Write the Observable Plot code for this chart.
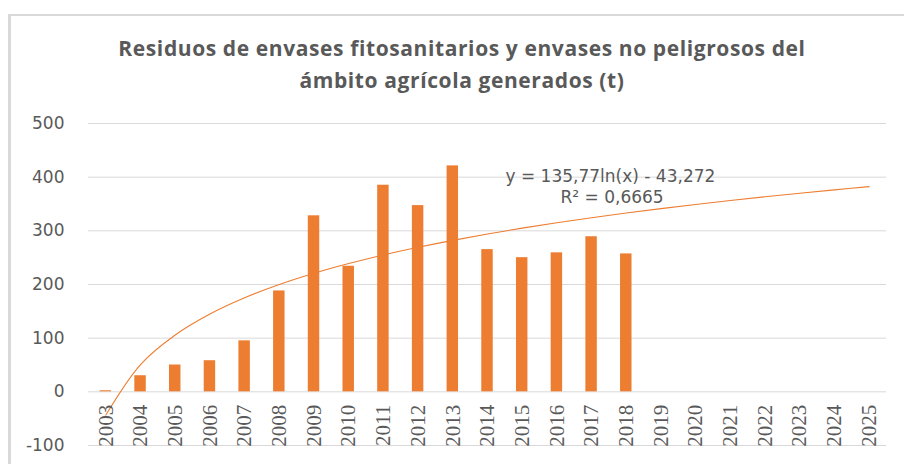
<!DOCTYPE html>
<html>
<head>
<meta charset="utf-8">
<script src="https://cdn.jsdelivr.net/npm/d3@7"></script>
<script src="https://cdn.jsdelivr.net/npm/@observablehq/plot@0.6"></script>
<style>
  body { margin: 0; background: #fff; }
  #wrap { position: relative; width: 904px; height: 464px; overflow: hidden; background: #fff; }
  #frame { position: absolute; left: 8px; top: 14px; right: -10px; bottom: -10px; border-top: 2px solid #d9d9d9; border-left: 3px solid #d9d9d9; pointer-events: none; }
  #title { height: 110px; box-sizing: border-box; padding-top: 32px; padding-left: 20px; text-align: center; font-family: "Open Sans", Lato, sans-serif; font-weight: bold; font-size: 21px; letter-spacing: 0.6px; line-height: 32px; color: #595959; }
</style>
</head>
<body>
<div id="wrap">
  <div id="frame"></div>
  <div id="title">Residuos de envases fitosanitarios y envases no peligrosos del<br>ámbito agrícola generados (t)</div>
  <div id="chart"></div>
</div>
<script>
const years = ["2003","2004","2005","2006","2007","2008","2009","2010","2011","2012","2013","2014","2015","2016","2017","2018","2019","2020","2021","2022","2023","2024","2025"];
const barYears = ["2003","2004","2005","2006","2007","2008","2009","2010","2011","2012","2013","2014","2015","2016","2017","2018"];
const barValues = [2, 30, 50, 58, 95, 188, 328, 234, 385, 347, 421, 265, 250, 259, 289, 257];
const yTicks = [-100, 0, 100, 200, 300, 400, 500];
// Logarithmic trendline as printed on the chart: y = 135,77 ln(x) - 43,272
const trendA = 135.77;
const trendB = -43.272;
const trendLabel = "y = 135,77ln(x) - 43,272";
const r2Label = "R² = 0,6665";

const bars = barYears.map((y, i) => ({year: y, value: barValues[i]}));
const trend = years.map((y, i) => ({year: y, value: trendA * Math.log(i + 1) + trendB}));

const orange = "#ED7D31";
const chart = Plot.plot({
  width: 904,
  height: 354,
  marginTop: 13,
  marginBottom: 19,
  marginLeft: 88,
  marginRight: 18,
  style: {fontFamily: "DejaVu Sans", fontSize: "17px", color: "#595959", background: "transparent"},
  x: {type: "band", domain: years, paddingInner: 0.67, paddingOuter: 0.335, round: false, axis: null},
  y: {domain: [-100, 500], ticks: yTicks, tickSize: 0, tickPadding: 24, label: null, tickFormat: d => String(d)},
  marks: [
    Plot.ruleY(yTicks, {stroke: "#d9d9d9", strokeWidth: 1}),
    Plot.barY(bars, {x: "year", y: "value", fill: orange}),
    Plot.line(trend, {x: "year", y: "value", stroke: orange, strokeWidth: 1.1, curve: "catmull-rom"}),
    Plot.text(years, {x: d => d, y: 0, text: d => d, rotate: -90, textAnchor: "end", dy: 13, fontFamily: "Liberation Serif, serif", fontSize: 21, fill: "#595959"}),
    Plot.text([trendLabel], {frameAnchor: "top-left", text: d => d, dx: 417, dy: 53, textAnchor: "start", lineAnchor: "middle", fontSize: 17, fill: "#595959"}),
    Plot.text([r2Label], {frameAnchor: "top-left", text: d => d, dx: 472, dy: 74, textAnchor: "start", lineAnchor: "middle", fontSize: 17, fill: "#595959"})
  ]
});
document.getElementById("chart").appendChild(chart);
</script>
</body>
</html>
